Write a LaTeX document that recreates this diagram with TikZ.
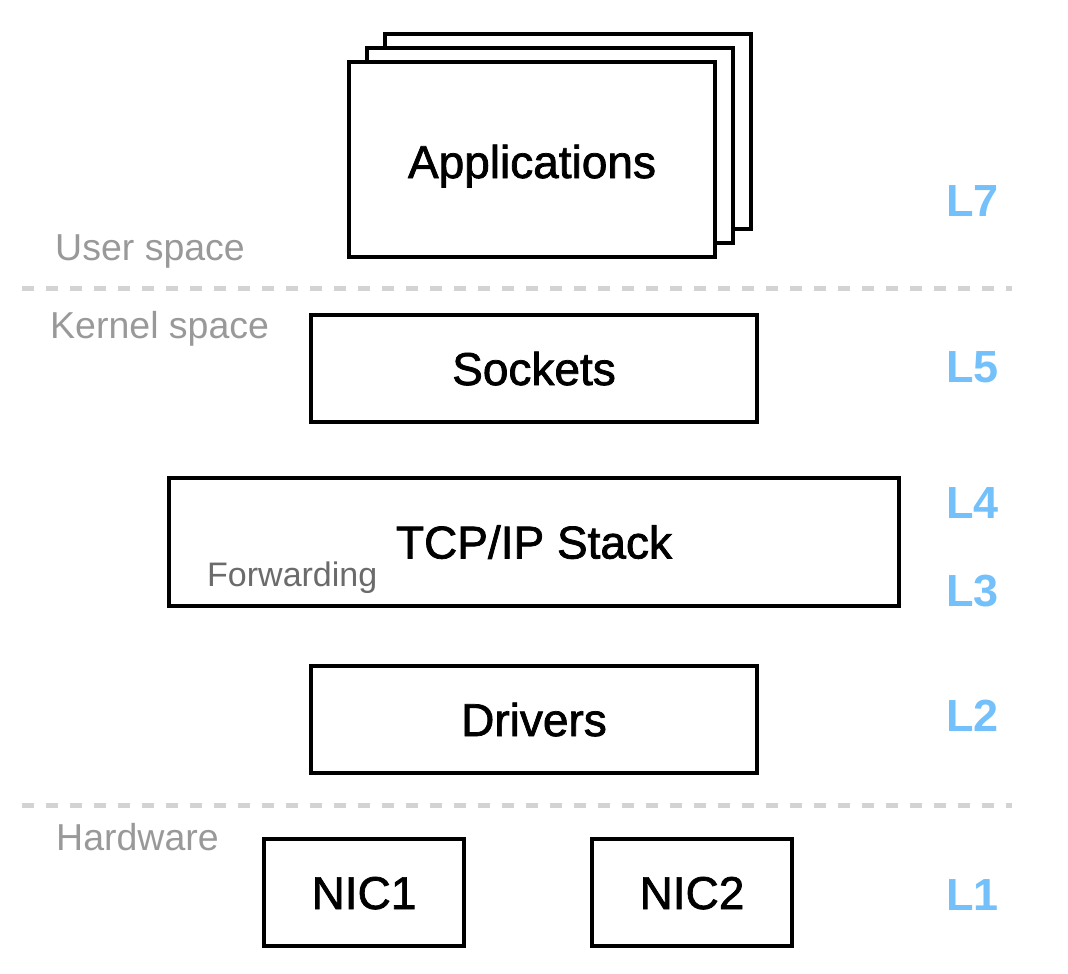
\documentclass[tikz,border=0pt]{standalone}
\usepackage{fontspec}
\setmainfont{Liberation Sans}
\newfontfamily\heavyfont[FakeBold=1.6]{Liberation Sans}
\definecolor{sepgray}{HTML}{D3D3D3}
\definecolor{lblgray}{HTML}{999999}
\definecolor{fwdgray}{HTML}{6B6B6B}
\definecolor{layerblue}{HTML}{74C0FA}
\tikzset{
  layerbox/.style={draw=black, line width=4pt, fill=white, inner sep=0pt,
    text height=33pt, text depth=0pt,
    font=\heavyfont\fontsize{46}{50}\selectfont},
  spacelbl/.style={anchor=base west, inner sep=0pt, text=lblgray,
    font=\fontsize{37.5}{42}\selectfont},
  fwdlbl/.style={anchor=base west, inner sep=0pt, text=fwdgray,
    font=\fontsize{34}{38}\selectfont},
  layerlbl/.style={anchor=base west, inner sep=0pt, text=layerblue,
    font=\fontsize{45}{50}\selectfont\bfseries},
  sepline/.style={draw=sepgray, line width=5pt, dash pattern=on 12pt off 12pt}
}
\begin{document}
\begin{tikzpicture}[x=1pt,y=-1pt]
\useasboundingbox (0,0) rectangle (1068,974);
% separators
\coordinate (s1a) at (22,288); \coordinate (s1b) at (1012,288);
\coordinate (s2a) at (22,805); \coordinate (s2b) at (1012,805);
\draw[sepline] (s1a) -- (s1b);
\draw[sepline] (s2a) -- (s2b);
% applications stack
\node[layerbox, minimum width=366pt, minimum height=195pt] (app2) at (568,131.5) {};
\node[layerbox, minimum width=366pt, minimum height=195pt] (app1) at (550,145.5) {};
\node[layerbox, minimum width=366pt, minimum height=195pt] (app) at (532,159.5) {};
\node[inner sep=0pt, text height=33pt, text depth=0pt, font=\heavyfont\fontsize{46}{50}\selectfont] (apptxt) at (532,161.5) {Applications};
% kernel boxes
\node[layerbox, minimum width=446pt, minimum height=107pt] (sock) at (534,368.5) {Sockets};
\node[layerbox, minimum width=730pt, minimum height=128pt] (tcp) at (534,542) {TCP/IP Stack};
\node[layerbox, minimum width=446pt, minimum height=107pt] (drv) at (534,719.5) {Drivers};
% hardware
\node[layerbox, minimum width=200pt, minimum height=107pt] (nic1) at (364,892.5) {NIC1};
\node[layerbox, minimum width=200pt, minimum height=107pt] (nic2) at (692,892.5) {NIC2};
% gray labels
\node[spacelbl] (user) at (55,260) {User space};
\node[spacelbl] (kern) at (50,338) {Kernel space};
\node[spacelbl] (hw) at (56,850) {Hardware};
\node[fwdlbl] (fwd) at (207,586) {Forwarding};
% layer labels
\node[layerlbl] (l7) at (946,216) {L7};
\node[layerlbl] (l5) at (946,382) {L5};
\node[layerlbl] (l4) at (946,518) {L4};
\node[layerlbl] (l3) at (946,606) {L3};
\node[layerlbl] (l2) at (946,731) {L2};
\node[layerlbl] (l1) at (946,910) {L1};
\end{tikzpicture}
\end{document}
